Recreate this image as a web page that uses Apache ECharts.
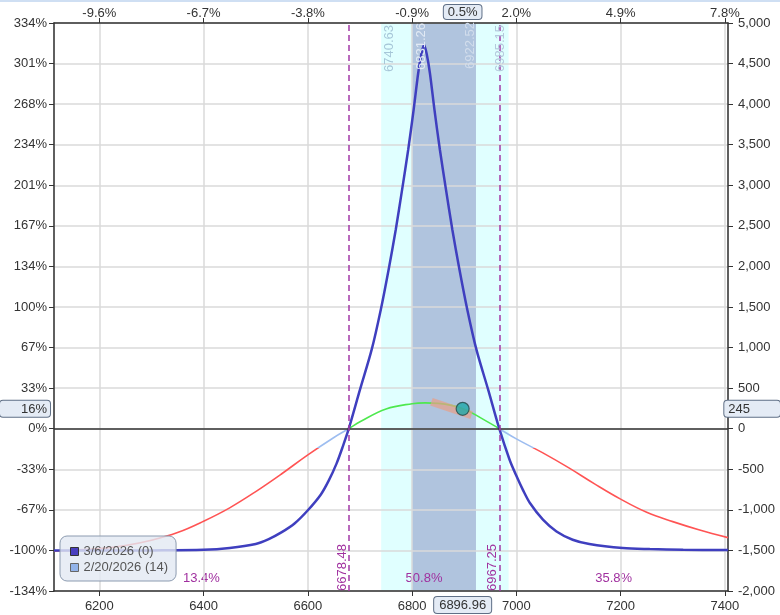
<!DOCTYPE html>
<html>
<head>
<meta charset="utf-8">
<script src="https://cdn.jsdelivr.net/npm/echarts@6/dist/echarts.min.js"></script>
<style>
html,body{margin:0;padding:0;background:#fff;}
#chart{width:780px;height:615px;}
#topline{position:absolute;left:0;top:0;width:780px;height:2px;background:#cfdff3;}
</style>
</head>
<body>
<div id="chart"></div>
<div id="topline"></div>
<script>
// price range shown
var xMin = 6113, xMax = 7406;

// axis tick labels
var leftTickLabels = ['-134%', '-100%', '-67%', '-33%', '0%', '33%', '67%', '100%', '134%', '167%', '201%', '234%', '268%', '301%', '334%'];
var topTickLabels = ['-9.6%', '-6.7%', '-3.8%', '-0.9%', '2.0%', '4.9%', '7.8%']; // 6200 .. 7400

// expiration curve 3/6/2026 (0)
var expiryPrices = [6113, 6200, 6300, 6400, 6450, 6500, 6525, 6550, 6575, 6600, 6625, 6640, 6655, 6667, 6678.48,
    6700, 6722.4, 6739.9, 6754.9, 6768.6, 6780.9, 6792.5, 6802.9, 6811.7, 6817.9, 6822.9,
    6827.9, 6834.1, 6842.9, 6853.3, 6864.9, 6877.2, 6890.9, 6905.9, 6923.4, 6945.9, 6967.25,
    6987, 7000, 7013, 7026, 7051, 7077, 7108, 7140, 7204, 7256, 7320, 7406];
var expiryPnl = [-1502, -1502, -1500, -1493, -1470, -1420, -1360, -1275, -1165, -1005, -810, -640, -430, -220, 0,
    481, 974, 1467, 1960, 2452, 2950, 3438, 3930, 4384, 4620, 4733,
    4620, 4384, 3930, 3438, 2950, 2452, 1960, 1467, 974, 481, 0,
    -382, -580, -760, -916, -1121, -1266, -1368, -1421, -1470, -1483, -1492, -1496];

// T+14 curve 2/20/2026 (14)
var t14Prices = [6113, 6150, 6200, 6250, 6300, 6350, 6400, 6450, 6500, 6550, 6600, 6650, 6678.48,
    6700, 6750, 6800, 6825, 6850, 6896.96, 6950, 6967.25,
    7000, 7050, 7100, 7150, 7200, 7250, 7300, 7350, 7406];
var t14Pnl = [-1505, -1497, -1478, -1440, -1375, -1280, -1140, -975, -775, -555, -322, -108, 0,
    85, 243, 308, 318, 312, 245, 66, 0,
    -125, -295, -480, -680, -868, -1030, -1145, -1245, -1342];

var breakevens = [6678.48, 6967.25];
var outerBand = [6740.63, 6985.15];
var innerBand = [6800.00, 6922.52];
var peakPrice = 6831.26;
var probEdges = [6113, 6678.48, 6967.25, 7406];
var probLabels = ['13.4%', '50.8%', '35.8%'];

var currentPrice = 6896.96;
var currentPnl = 245;
var currentPnlPct = '16%';
var currentMovePct = '0.5%';
var deltaBand = [[6837, 333], [6914, 168]];

function zip(xs, ys) {
    var out = [];
    for (var i = 0; i < xs.length; i++) out.push([xs[i], ys[i]]);
    return out;
}

var FONT = 'Liberation Sans';
var axisText = {color: '#333', fontSize: 13, fontFamily: FONT};
var boxLabel = {
    show: true, color: '#333', fontSize: 13, fontFamily: FONT,
    backgroundColor: '#e4ebf5', borderColor: '#5f6f86', borderWidth: 1,
    shadowBlur: 0, padding: [2, 4, 1, 4]
};
function pointer(value, label) {
    return {
        show: true, type: 'line', value: value, status: 'show', snap: false, triggerTooltip: false,
        lineStyle: {width: 0, opacity: 0},
        label: label
    };
}
var hidden = {color: 'rgba(0,0,0,0)', width: 0};

var myChart = echarts.init(document.getElementById('chart'), null, {renderer: 'canvas'});

var option = {
    animation: false,
    backgroundColor: '#fff',
    grid: {left: 54, right: 52, top: 23, bottom: 24},
    legend: {
        data: [
            {name: '3/6/2026 (0)', itemStyle: {color: '#4a3fbf', borderColor: '#333', borderWidth: 1}},
            {name: '2/20/2026 (14)', itemStyle: {color: '#93b4ea', borderColor: '#666', borderWidth: 1}}
        ],
        orient: 'vertical', left: 60, top: 536,
        icon: 'rect', itemWidth: 8, itemHeight: 8, itemGap: 3,
        padding: [9, 8, 7, 10],
        backgroundColor: 'rgba(226,233,243,0.8)', borderColor: '#8c9bb0', borderWidth: 1, borderRadius: 7,
        textStyle: {color: '#555', fontSize: 13, fontFamily: FONT},
        selectedMode: false
    },
    visualMap: {
        type: 'piecewise', show: false, seriesIndex: 1, dimension: 1,
        pieces: [
            {lt: -240, color: '#ff5454'},
            {gte: -240, lt: 0, color: '#9dbdf0'},
            {gte: 0, color: '#4ee84e'}
        ]
    },
    xAxis: [{
        type: 'value', position: 'bottom', min: xMin, max: xMax,
        splitNumber: 6, minInterval: 200, maxInterval: 200,
        axisLine: {show: true, onZero: false, lineStyle: {color: '#333', width: 1.5}},
        axisTick: {show: true, length: 5, lineStyle: {color: '#333'}},
        axisLabel: Object.assign({
            showMinLabel: false, showMaxLabel: false, margin: 9,
            formatter: function (v) { return String(v); }
        }, axisText),
        splitLine: {show: true, lineStyle: {color: '#dadada', width: 1.5}},
        axisPointer: pointer(currentPrice, Object.assign({}, boxLabel, {
            borderRadius: 3, padding: [2, 5, 1, 5], margin: 6,
            formatter: function (p) { return p.value.toFixed(2); }
        }))
    }, {
        type: 'value', position: 'top', min: xMin, max: xMax,
        splitNumber: 6, minInterval: 200, maxInterval: 200,
        axisLine: {show: true, onZero: false, lineStyle: {color: '#333', width: 1.5}},
        axisTick: {show: true, length: 5, lineStyle: {color: '#333'}},
        axisLabel: Object.assign({
            showMinLabel: false, showMaxLabel: false, margin: 3,
            formatter: function (v) { return topTickLabels[Math.round((v - 6200) / 200)] || ''; }
        }, axisText),
        splitLine: {show: false},
        axisPointer: pointer(currentPrice, Object.assign({}, boxLabel, {
            padding: [1, 4, 0, 4], margin: 4,
            formatter: function () { return currentMovePct; }
        }))
    }],
    yAxis: [{
        type: 'value', position: 'left', min: -2000, max: 5000, interval: 500,
        axisLine: {show: true, onZero: false, lineStyle: {color: '#333', width: 1.5}},
        axisTick: {show: true, length: 5, lineStyle: {color: '#333'}},
        axisLabel: Object.assign({
            margin: 7,
            formatter: function (v) { return leftTickLabels[Math.round((v + 2000) / 500)]; }
        }, axisText),
        splitLine: {show: true, lineStyle: {color: '#dadada', width: 1.5}},
        axisPointer: pointer(currentPnl, Object.assign({}, boxLabel, {
            padding: [2, 3, 1, 21], margin: 6,
            formatter: function () { return currentPnlPct; }
        }))
    }, {
        type: 'value', position: 'right', min: -2000, max: 5000, interval: 500,
        axisLine: {show: true, onZero: false, lineStyle: {color: '#333', width: 1.5}},
        axisTick: {show: true, length: 5, lineStyle: {color: '#333'}},
        axisLabel: Object.assign({
            margin: 10,
            formatter: function (v) { return echarts.format.addCommas(v); }
        }, axisText),
        splitLine: {show: false},
        axisPointer: pointer(currentPnl, Object.assign({}, boxLabel, {
            padding: [2, 30, 1, 4], margin: 5,
            formatter: function (p) { return String(Math.round(p.value)); }
        }))
    }],
    series: [{
        name: '3/6/2026 (0)',
        type: 'line',
        data: zip(expiryPrices, expiryPnl),
        smooth: 0.3,
        symbol: 'none',
        z: 3,
        lineStyle: {color: '#3f3fbf', width: 2.5},
        itemStyle: {color: '#4a3fbf'},
        markArea: {
            silent: true, z: -1,
            data: [
                [{xAxis: outerBand[0], itemStyle: {color: '#e0ffff'}}, {xAxis: outerBand[1]}],
                [{xAxis: innerBand[0], itemStyle: {color: '#b0c4de'}}, {xAxis: innerBand[1]}],
                [{xAxis: probEdges[0], name: probLabels[0]}, {xAxis: probEdges[1]}],
                [{xAxis: probEdges[1], name: probLabels[1]}, {xAxis: probEdges[2]}],
                [{xAxis: probEdges[2], name: probLabels[2]}, {xAxis: probEdges[3]}]
            ].map(function (d, i) {
                if (i >= 2) {
                    d[0].itemStyle = {color: 'rgba(0,0,0,0)'};
                    d[0].label = {
                        show: true, position: 'insideBottom', distance: 6,
                        color: '#a0309f', fontSize: 13, fontFamily: FONT
                    };
                } else {
                    d[0].label = {show: false};
                }
                return d;
            })
        },
        markLine: {
            silent: true, symbol: 'none', z: 5,
            label: {
                show: true, fontSize: 13, fontFamily: FONT,
                formatter: function (p) { return Number(p.value).toFixed(2); }
            },
            data: [
                {yAxis: 0, lineStyle: {color: '#333', width: 1.5, type: 'solid'}, label: {show: false}},
                {xAxis: breakevens[0], lineStyle: {color: '#a23aa8', width: 1.5, type: [6, 4]},
                    label: {position: 'insideStartTop', distance: 0, color: '#a0309f'}},
                {xAxis: breakevens[1], lineStyle: {color: '#a23aa8', width: 1.5, type: [6, 4]},
                    label: {position: 'insideStartTop', distance: 0, color: '#a0309f'}},
                {xAxis: outerBand[0], lineStyle: hidden,
                    label: {position: 'insideEndBottom', distance: 2, color: '#a6c6d8'}},
                {xAxis: peakPrice, lineStyle: hidden,
                    label: {position: 'insideEndTop', distance: 0, color: '#e2eaf4'}},
                {xAxis: innerBand[1], lineStyle: hidden,
                    label: {position: 'insideEndTop', distance: -1, color: '#d2ddec'}},
                {xAxis: outerBand[1], lineStyle: hidden,
                    label: {position: 'insideEndTop', distance: 2, color: '#b3c8dc'}}
            ]
        }
    }, {
        name: '2/20/2026 (14)',
        type: 'line',
        data: zip(t14Prices, t14Pnl),
        smooth: 0.4,
        symbol: 'none',
        z: 2,
        lineStyle: {width: 1.6},
        itemStyle: {color: '#93b4ea'}
    }, {
        name: 'delta',
        type: 'line',
        data: deltaBand,
        symbol: 'none',
        z: 4,
        lineStyle: {color: 'rgba(232,160,135,0.7)', width: 8, cap: 'butt'}
    }, {
        name: 'now',
        type: 'scatter',
        data: [[currentPrice, currentPnl]],
        symbolSize: 13,
        z: 6,
        itemStyle: {color: '#1fa9a9', borderColor: '#264848', borderWidth: 1.2}
    }]
};

myChart.setOption(option);
</script>
</body>
</html>
